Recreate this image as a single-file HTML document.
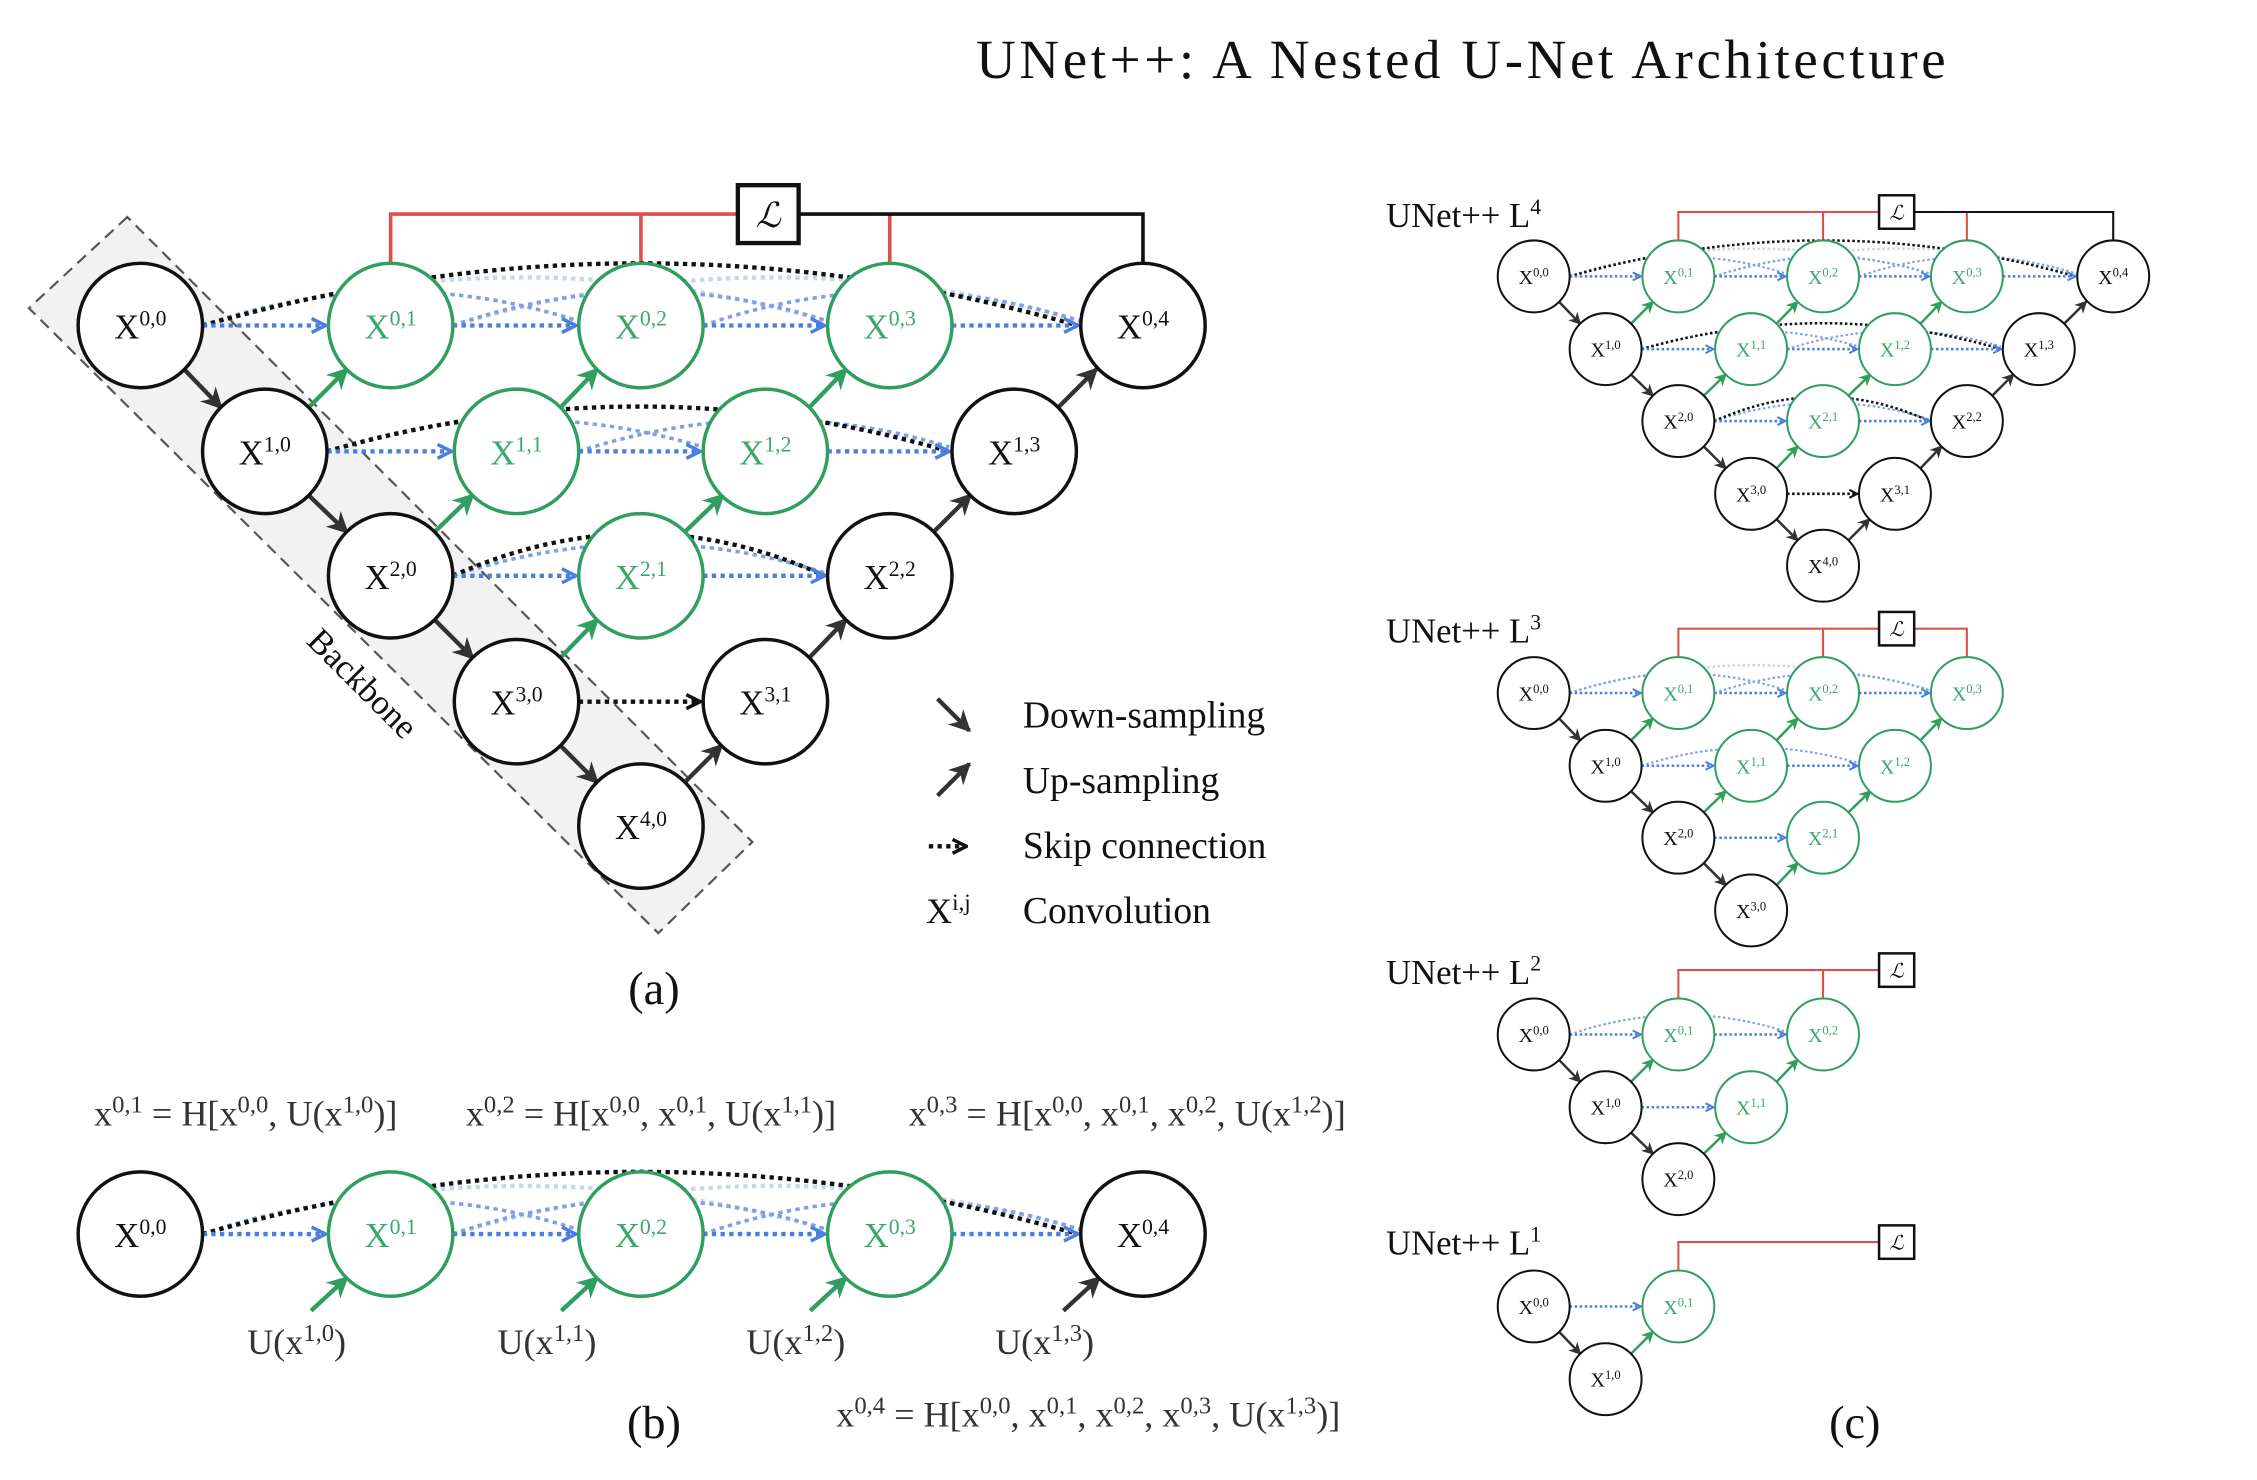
<!DOCTYPE html>
<html><head><meta charset="utf-8"><style>
html,body{margin:0;padding:0;background:#fff}
svg{display:block}
text{font-family:"Liberation Serif",serif;fill:#111}
.b circle{stroke:#111;stroke-width:2.4;fill:#fff}
.g circle{stroke:#2f9e5f;stroke-width:2.4;fill:#fff}
.b text,.g text{font-size:24px;text-anchor:middle}
.g text{fill:#3aa86a}
.s{font-size:15px}
.bl{stroke:#4a7fe0;stroke-width:3;stroke-dasharray:3 3;fill:none}
.bla{stroke:#7fa0e6;stroke-width:2.5;stroke-dasharray:3 3;fill:none}
.blf{stroke:#c9d5ef;stroke-width:3;stroke-dasharray:3 3;fill:none}
.kd{stroke:#111;stroke-width:3;stroke-dasharray:3 3;fill:none}
.dn{stroke:#333;stroke-width:3;fill:none}
.up{stroke:#2f9e5f;stroke-width:3;fill:none}
.red{stroke:#e0504a;stroke-width:2.5;fill:none}
.blk{stroke:#111;stroke-width:2.5;fill:none}
.eq{font-size:25px;fill:#333}
.eq .s{font-size:17px}
</style></head><body>
<svg width="2257" height="1480" viewBox="0 0 1560 1023" preserveAspectRatio="none" xmlns="http://www.w3.org/2000/svg">
<defs>
<marker id="ak" viewBox="0 0 10 10" refX="9" refY="5" markerWidth="5" markerHeight="5" orient="auto"><path d="M0,0 L10,5 L0,10 L3,5z" fill="#333"/></marker>
<marker id="ag" viewBox="0 0 10 10" refX="9" refY="5" markerWidth="5" markerHeight="5" orient="auto"><path d="M0,0 L10,5 L0,10 L3,5z" fill="#2f9e5f"/></marker>
<marker id="ab" viewBox="0 0 10 10" refX="9" refY="5" markerWidth="4" markerHeight="4" orient="auto"><path d="M1,1 L9,5 L1,9" fill="none" stroke="#4a7fe0" stroke-width="2"/></marker>
<marker id="akc" viewBox="0 0 10 10" refX="9" refY="5" markerWidth="4" markerHeight="4" orient="auto"><path d="M1,1 L9,5 L1,9" fill="none" stroke="#111" stroke-width="2"/></marker>
</defs>
<rect width="1560" height="1023" fill="#fff"/>
<text x="1011" y="54" font-size="38" letter-spacing="2.5" text-anchor="middle">UNet++: A Nested U-Net Architecture</text>

<!-- Panel (a) -->
<polygon points="88,150 20,213 455,645 520,582" fill="#f2f2f2" stroke="#555" stroke-width="1.5" stroke-dasharray="8 5"/>
<text x="245" y="478" font-size="24" text-anchor="middle" transform="rotate(45 245 478)">Backbone</text>

<g id="full">
<path class="red" d="M270,182V148H510M443,182V148M615,182V148"/>
<path class="blk" d="M552,148H790V182"/>
<rect x="510" y="128" width="42" height="40" fill="#fff" stroke="#111" stroke-width="3"/>
<text x="531" y="157" font-size="24" font-style="italic" text-anchor="middle">ℒ</text>
<path class="blf" d="M140,225 Q356,160 572,222M313,225 Q530,160 747,222"/>
<path class="bla" d="M140,225 Q270,180 400,222M313,225 Q443,180 572,222M486,225 Q615,180 747,222"/>
<path class="kd" d="M140,225 Q443,139 745,225"/>
<path class="bl" marker-end="url(#ab)" d="M140,225H225"/><path class="bl" marker-end="url(#ab)" d="M313,225H398"/><path class="bl" marker-end="url(#ab)" d="M486,225H570"/><path class="bl" marker-end="url(#ab)" d="M658,225H745"/>
<path class="bla" d="M226,312 Q356,270 486,309M400,312 Q530,270 656,309"/>
<path class="kd" d="M226,312 Q443,250 656,312"/>
<path class="bl" marker-end="url(#ab)" d="M226,312H312"/><path class="bl" marker-end="url(#ab)" d="M400,312H484"/><path class="bl" marker-end="url(#ab)" d="M572,312H656"/>
<path class="bla" d="M313,398 Q443,355 570,396"/>
<path class="kd" d="M313,398 Q443,340 570,398"/>
<path class="bl" marker-end="url(#ab)" d="M313,398H398"/><path class="bl" marker-end="url(#ab)" d="M486,398H570"/>
<path class="kd" marker-end="url(#akc)" d="M400,485H484"/>
<path class="dn" marker-end="url(#ak)" d="M127,255L153,282"/><path class="dn" marker-end="url(#ak)" d="M213,342L240,368"/><path class="dn" marker-end="url(#ak)" d="M300,428L327,455"/><path class="dn" marker-end="url(#ak)" d="M387,515L413,541"/>
<path class="up" marker-end="url(#ag)" d="M213,282L240,255"/><path class="up" marker-end="url(#ag)" d="M300,368L327,342"/><path class="up" marker-end="url(#ag)" d="M387,282L413,255"/><path class="up" marker-end="url(#ag)" d="M387,455L413,428"/><path class="up" marker-end="url(#ag)" d="M473,368L500,342"/><path class="up" marker-end="url(#ag)" d="M559,282L585,255"/>
<path class="dn" marker-end="url(#ak)" d="M473,541L499,515"/><path class="dn" marker-end="url(#ak)" d="M559,455L585,428"/><path class="dn" marker-end="url(#ak)" d="M645,368L671,342"/><path class="dn" marker-end="url(#ak)" d="M731,282L758,255"/>
<g class="b"><circle cx="97" cy="225" r="43"/><text x="97" y="234">X<tspan class="s" dy="-9">0,0</tspan></text></g>
<g class="b"><circle cx="183" cy="312" r="43"/><text x="183" y="321">X<tspan class="s" dy="-9">1,0</tspan></text></g>
<g class="b"><circle cx="270" cy="398" r="43"/><text x="270" y="407">X<tspan class="s" dy="-9">2,0</tspan></text></g>
<g class="b"><circle cx="357" cy="485" r="43"/><text x="357" y="494">X<tspan class="s" dy="-9">3,0</tspan></text></g>
<g class="b"><circle cx="443" cy="571" r="43"/><text x="443" y="580">X<tspan class="s" dy="-9">4,0</tspan></text></g>
<g class="g"><circle cx="270" cy="225" r="43"/><text x="270" y="234">X<tspan class="s" dy="-9">0,1</tspan></text></g>
<g class="g"><circle cx="357" cy="312" r="43"/><text x="357" y="321">X<tspan class="s" dy="-9">1,1</tspan></text></g>
<g class="g"><circle cx="443" cy="398" r="43"/><text x="443" y="407">X<tspan class="s" dy="-9">2,1</tspan></text></g>
<g class="b"><circle cx="529" cy="485" r="43"/><text x="529" y="494">X<tspan class="s" dy="-9">3,1</tspan></text></g>
<g class="g"><circle cx="443" cy="225" r="43"/><text x="443" y="234">X<tspan class="s" dy="-9">0,2</tspan></text></g>
<g class="g"><circle cx="529" cy="312" r="43"/><text x="529" y="321">X<tspan class="s" dy="-9">1,2</tspan></text></g>
<g class="b"><circle cx="615" cy="398" r="43"/><text x="615" y="407">X<tspan class="s" dy="-9">2,2</tspan></text></g>
<g class="g"><circle cx="615" cy="225" r="43"/><text x="615" y="234">X<tspan class="s" dy="-9">0,3</tspan></text></g>
<g class="b"><circle cx="701" cy="312" r="43"/><text x="701" y="321">X<tspan class="s" dy="-9">1,3</tspan></text></g>
<g class="b"><circle cx="790" cy="225" r="43"/><text x="790" y="234">X<tspan class="s" dy="-9">0,4</tspan></text></g>
</g>

<path class="dn" marker-end="url(#ak)" d="M648,483L670,505"/>
<path class="dn" marker-end="url(#ak)" d="M648,550L670,528"/>
<path class="kd" marker-end="url(#akc)" d="M642,585H668"/>
<text x="640" y="638" font-size="25">X<tspan font-size="16" dy="-9">i,j</tspan></text>
<text x="707" y="503" font-size="26">Down-sampling</text>
<text x="707" y="548" font-size="26">Up-sampling</text>
<text x="707" y="593" font-size="26">Skip connection</text>
<text x="707" y="638" font-size="26">Convolution</text>
<text x="452" y="694" font-size="32" text-anchor="middle">(a)</text>

<!-- Panel (b) -->
<text class="eq" x="65" y="778">x<tspan class="s" dy="-9">0,1</tspan><tspan dy="9"> = H[x</tspan><tspan class="s" dy="-9">0,0</tspan><tspan dy="9">, U(x</tspan><tspan class="s" dy="-9">1,0</tspan><tspan dy="9">)]</tspan></text>
<text class="eq" x="322" y="778">x<tspan class="s" dy="-9">0,2</tspan><tspan dy="9"> = H[x</tspan><tspan class="s" dy="-9">0,0</tspan><tspan dy="9">, x</tspan><tspan class="s" dy="-9">0,1</tspan><tspan dy="9">, U(x</tspan><tspan class="s" dy="-9">1,1</tspan><tspan dy="9">)]</tspan></text>
<text class="eq" x="628" y="778">x<tspan class="s" dy="-9">0,3</tspan><tspan dy="9"> = H[x</tspan><tspan class="s" dy="-9">0,0</tspan><tspan dy="9">, x</tspan><tspan class="s" dy="-9">0,1</tspan><tspan dy="9">, x</tspan><tspan class="s" dy="-9">0,2</tspan><tspan dy="9">, U(x</tspan><tspan class="s" dy="-9">1,2</tspan><tspan dy="9">)]</tspan></text>
<text class="eq" x="578" y="986">x<tspan class="s" dy="-9">0,4</tspan><tspan dy="9"> = H[x</tspan><tspan class="s" dy="-9">0,0</tspan><tspan dy="9">, x</tspan><tspan class="s" dy="-9">0,1</tspan><tspan dy="9">, x</tspan><tspan class="s" dy="-9">0,2</tspan><tspan dy="9">, x</tspan><tspan class="s" dy="-9">0,3</tspan><tspan dy="9">, U(x</tspan><tspan class="s" dy="-9">1,3</tspan><tspan dy="9">)]</tspan></text>
<g transform="translate(0,628)">
<path class="blf" d="M140,225 Q356,160 572,222M313,225 Q530,160 747,222"/>
<path class="bla" d="M140,225 Q270,180 400,222M313,225 Q443,180 572,222M486,225 Q615,180 747,222"/>
<path class="kd" d="M140,225 Q443,139 745,225"/>
<path class="bl" marker-end="url(#ab)" d="M140,225H225"/><path class="bl" marker-end="url(#ab)" d="M313,225H398"/><path class="bl" marker-end="url(#ab)" d="M486,225H570"/><path class="bl" marker-end="url(#ab)" d="M658,225H745"/>
<path class="up" marker-end="url(#ag)" d="M215,278L240,255"/><path class="up" marker-end="url(#ag)" d="M388,278L413,255"/><path class="up" marker-end="url(#ag)" d="M560,278L585,255"/>
<path class="dn" marker-end="url(#ak)" d="M735,278L760,255"/>
<g class="b"><circle cx="97" cy="225" r="43"/><text x="97" y="234">X<tspan class="s" dy="-9">0,0</tspan></text></g>
<g class="g"><circle cx="270" cy="225" r="43"/><text x="270" y="234">X<tspan class="s" dy="-9">0,1</tspan></text></g>
<g class="g"><circle cx="443" cy="225" r="43"/><text x="443" y="234">X<tspan class="s" dy="-9">0,2</tspan></text></g>
<g class="g"><circle cx="615" cy="225" r="43"/><text x="615" y="234">X<tspan class="s" dy="-9">0,3</tspan></text></g>
<g class="b"><circle cx="790" cy="225" r="43"/><text x="790" y="234">X<tspan class="s" dy="-9">0,4</tspan></text></g>
</g>
<text class="eq" x="205" y="936" text-anchor="middle">U(x<tspan class="s" dy="-9">1,0</tspan><tspan dy="9">)</tspan></text>
<text class="eq" x="378" y="936" text-anchor="middle">U(x<tspan class="s" dy="-9">1,1</tspan><tspan dy="9">)</tspan></text>
<text class="eq" x="550" y="936" text-anchor="middle">U(x<tspan class="s" dy="-9">1,2</tspan><tspan dy="9">)</tspan></text>
<text class="eq" x="722" y="936" text-anchor="middle">U(x<tspan class="s" dy="-9">1,3</tspan><tspan dy="9">)</tspan></text>
<text x="452" y="994" font-size="32" text-anchor="middle">(b)</text>

<!-- Panel (c) -->
<text x="958" y="157" font-size="24">UNet++ L<tspan font-size="15" dy="-9">4</tspan></text>
<text x="958" y="444" font-size="24">UNet++ L<tspan font-size="15" dy="-9">3</tspan></text>
<text x="958" y="680" font-size="24">UNet++ L<tspan font-size="15" dy="-9">2</tspan></text>
<text x="958" y="867" font-size="24">UNet++ L<tspan font-size="15" dy="-9">1</tspan></text>
<use href="#full" transform="translate(1004,61) scale(0.578)"/>

<g transform="translate(1004,349) scale(0.578)">
<path class="red" d="M270,182V148H510M443,182V148M552,148H615V182"/>
<rect x="510" y="128" width="42" height="40" fill="#fff" stroke="#111" stroke-width="3"/>
<text x="531" y="157" font-size="24" font-style="italic" text-anchor="middle">ℒ</text>
<path class="blf" d="M140,225 Q356,160 572,222"/>
<path class="bla" d="M140,225 Q270,180 400,222M313,225 Q443,180 572,222"/>
<path class="bl" marker-end="url(#ab)" d="M140,225H225"/><path class="bl" marker-end="url(#ab)" d="M313,225H398"/><path class="bl" marker-end="url(#ab)" d="M486,225H570"/>
<path class="bla" d="M226,312 Q356,270 486,309"/>
<path class="bl" marker-end="url(#ab)" d="M226,312H312"/><path class="bl" marker-end="url(#ab)" d="M400,312H484"/>
<path class="bl" marker-end="url(#ab)" d="M313,398H398"/>
<path class="dn" marker-end="url(#ak)" d="M127,255L153,282"/><path class="dn" marker-end="url(#ak)" d="M213,342L240,368"/><path class="dn" marker-end="url(#ak)" d="M300,428L327,455"/>
<path class="up" marker-end="url(#ag)" d="M213,282L240,255"/><path class="up" marker-end="url(#ag)" d="M300,368L327,342"/><path class="up" marker-end="url(#ag)" d="M387,282L413,255"/><path class="up" marker-end="url(#ag)" d="M387,455L413,428"/><path class="up" marker-end="url(#ag)" d="M473,368L500,342"/><path class="up" marker-end="url(#ag)" d="M559,282L585,255"/>
<g class="b"><circle cx="97" cy="225" r="43"/><text x="97" y="234">X<tspan class="s" dy="-9">0,0</tspan></text></g>
<g class="b"><circle cx="183" cy="312" r="43"/><text x="183" y="321">X<tspan class="s" dy="-9">1,0</tspan></text></g>
<g class="b"><circle cx="270" cy="398" r="43"/><text x="270" y="407">X<tspan class="s" dy="-9">2,0</tspan></text></g>
<g class="b"><circle cx="357" cy="485" r="43"/><text x="357" y="494">X<tspan class="s" dy="-9">3,0</tspan></text></g>
<g class="g"><circle cx="270" cy="225" r="43"/><text x="270" y="234">X<tspan class="s" dy="-9">0,1</tspan></text></g>
<g class="g"><circle cx="357" cy="312" r="43"/><text x="357" y="321">X<tspan class="s" dy="-9">1,1</tspan></text></g>
<g class="g"><circle cx="443" cy="398" r="43"/><text x="443" y="407">X<tspan class="s" dy="-9">2,1</tspan></text></g>
<g class="g"><circle cx="443" cy="225" r="43"/><text x="443" y="234">X<tspan class="s" dy="-9">0,2</tspan></text></g>
<g class="g"><circle cx="529" cy="312" r="43"/><text x="529" y="321">X<tspan class="s" dy="-9">1,2</tspan></text></g>
<g class="g"><circle cx="615" cy="225" r="43"/><text x="615" y="234">X<tspan class="s" dy="-9">0,3</tspan></text></g>
</g>

<g transform="translate(1004,585) scale(0.578)">
<path class="red" d="M270,182V148H510M443,182V148"/>
<rect x="510" y="128" width="42" height="40" fill="#fff" stroke="#111" stroke-width="3"/>
<text x="531" y="157" font-size="24" font-style="italic" text-anchor="middle">ℒ</text>
<path class="bla" d="M140,225 Q270,180 400,222"/>
<path class="bl" marker-end="url(#ab)" d="M140,225H225"/><path class="bl" marker-end="url(#ab)" d="M313,225H398"/>
<path class="bl" marker-end="url(#ab)" d="M226,312H312"/>
<path class="dn" marker-end="url(#ak)" d="M127,255L153,282"/><path class="dn" marker-end="url(#ak)" d="M213,342L240,368"/>
<path class="up" marker-end="url(#ag)" d="M213,282L240,255"/><path class="up" marker-end="url(#ag)" d="M300,368L327,342"/><path class="up" marker-end="url(#ag)" d="M387,282L413,255"/>
<g class="b"><circle cx="97" cy="225" r="43"/><text x="97" y="234">X<tspan class="s" dy="-9">0,0</tspan></text></g>
<g class="b"><circle cx="183" cy="312" r="43"/><text x="183" y="321">X<tspan class="s" dy="-9">1,0</tspan></text></g>
<g class="b"><circle cx="270" cy="398" r="43"/><text x="270" y="407">X<tspan class="s" dy="-9">2,0</tspan></text></g>
<g class="g"><circle cx="270" cy="225" r="43"/><text x="270" y="234">X<tspan class="s" dy="-9">0,1</tspan></text></g>
<g class="g"><circle cx="357" cy="312" r="43"/><text x="357" y="321">X<tspan class="s" dy="-9">1,1</tspan></text></g>
<g class="g"><circle cx="443" cy="225" r="43"/><text x="443" y="234">X<tspan class="s" dy="-9">0,2</tspan></text></g>
</g>

<g transform="translate(1004,773) scale(0.578)">
<path class="red" d="M270,182V148H510"/>
<rect x="510" y="128" width="42" height="40" fill="#fff" stroke="#111" stroke-width="3"/>
<text x="531" y="157" font-size="24" font-style="italic" text-anchor="middle">ℒ</text>
<path class="bl" marker-end="url(#ab)" d="M140,225H225"/>
<path class="dn" marker-end="url(#ak)" d="M127,255L153,282"/>
<path class="up" marker-end="url(#ag)" d="M213,282L240,255"/>
<g class="b"><circle cx="97" cy="225" r="43"/><text x="97" y="234">X<tspan class="s" dy="-9">0,0</tspan></text></g>
<g class="b"><circle cx="183" cy="312" r="43"/><text x="183" y="321">X<tspan class="s" dy="-9">1,0</tspan></text></g>
<g class="g"><circle cx="270" cy="225" r="43"/><text x="270" y="234">X<tspan class="s" dy="-9">0,1</tspan></text></g>
</g>
<text x="1282" y="994" font-size="32" text-anchor="middle">(c)</text>
</svg>
</body></html>
